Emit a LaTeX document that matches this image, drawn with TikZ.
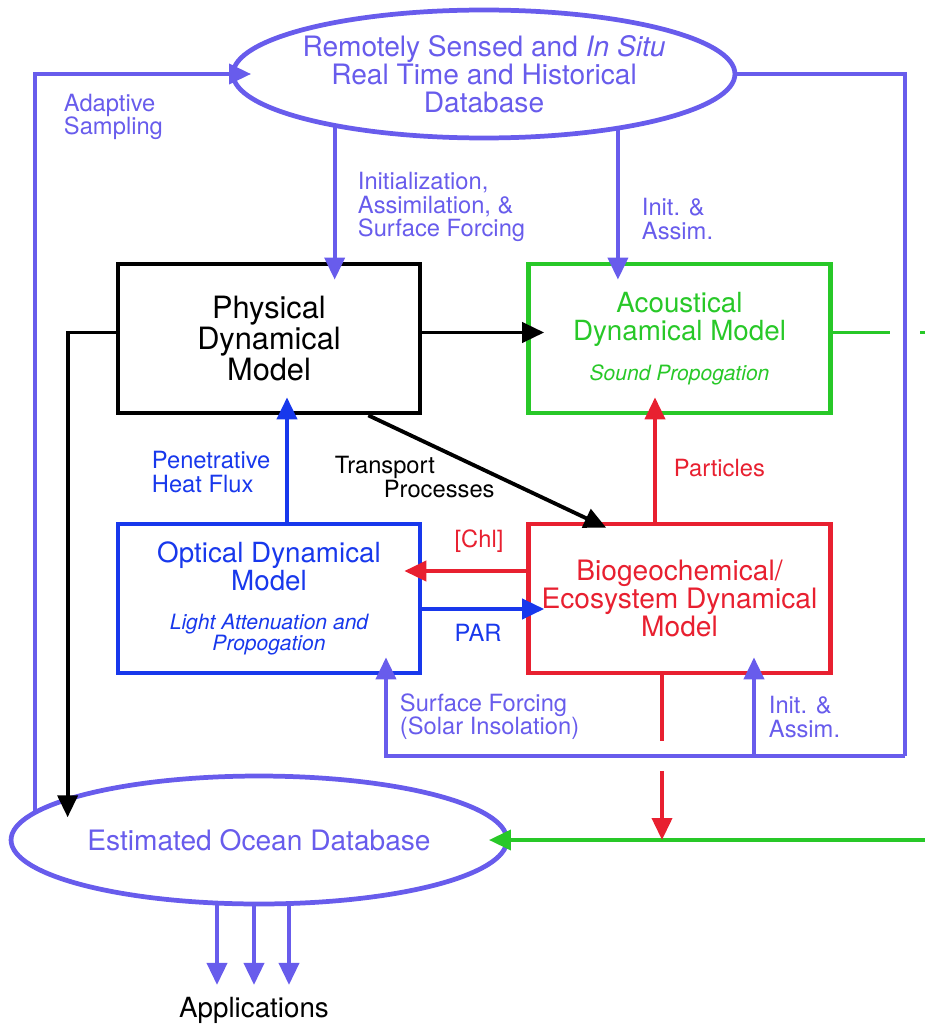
\documentclass[tikz,border=0pt]{standalone}
\usepackage{fontspec}
\setmainfont{TeX Gyre Heros}
\usetikzlibrary{arrows.meta, positioning, shapes.geometric, calc}
\definecolor{dbblue}{RGB}{104,92,236}
\definecolor{optblue}{RGB}{24,56,236}
\definecolor{biored}{RGB}{232,32,48}
\definecolor{acgreen}{RGB}{40,200,40}
\newcommand\modelsub[1]{{\itshape\fontsize{12}{12}\selectfont #1}}

\begin{document}
\begin{tikzpicture}[x=0.02cm, y=-0.02cm, >={Triangle[length=0.44cm, width=0.4cm]}, line width=2.2pt]
            \tikzset{modelbox/.style={draw, line width=2.7pt, minimum width=6.04cm, minimum height=2.98cm, align=center, inner sep=0pt},
                     dbell/.style={ellipse, draw=dbblue, line width=2.7pt, text=dbblue, align=center, inner xsep=-0.3cm, inner ysep=0pt, outer sep=0pt},
                     lbl/.style={anchor=west, align=left, inner sep=0pt, font=\fontsize{13.5}{13.4}\selectfont},
                     intip/.style={shorten >=-0.36cm},
                     hop/.style={preaction={draw=white, line width=0.6cm}}}
            \useasboundingbox (0,0) rectangle (925,1024);
            % databases
            \node[dbell, minimum width=10.04cm, minimum height=2.56cm, font=\fontsize{16}{15.9}\selectfont] (rsdb) at (484,74)
                {Remotely Sensed and \textit{In Situ}\\Real Time and Historical\\Database};
            \node[dbell, minimum width=9.92cm, minimum height=2.56cm, font=\fontsize{16}{16}\selectfont] (eodb) at (259,840)
                {Estimated Ocean Database};
            \node[font=\fontsize{15.8}{16}\selectfont, inner sep=0pt] (apps) at (254,1010) {Applications};
            % models
            \node[modelbox, font=\fontsize{17.5}{16.2}\selectfont] (phys) at (269,338.5) {Physical\\Dynamical\\Model};
            \node[modelbox, draw=acgreen, text=acgreen, font=\fontsize{15.8}{15.9}\selectfont] (acou) at (679.5,338.5)
                {Acoustical\\Dynamical Model\\[7pt]\modelsub{Sound Propogation}};
            \node[modelbox, draw=optblue, text=optblue, font=\fontsize{15.8}{15.9}\selectfont] (opt) at (269,598.5)
                {Optical Dynamical\\Model\\[6pt]\modelsub{Light Attenuation and}\\[-4pt]\modelsub{Propogation}};
            \node[modelbox, draw=biored, text=biored, font=\fontsize{16}{15.9}\selectfont] (bio) at (679.5,598.5)
                {Biogeochemical/\\Ecosystem Dynamical\\Model};
            % labels
            \node[lbl, text=dbblue] (adapt) at (62,117) {Adaptive\\Sampling};
            \node[lbl, text=dbblue] (initphys) at (356,207) {Initialization,\\Assimilation, \&\\Surface Forcing};
            \node[lbl, text=dbblue] (initacou) at (640,219) {Init. \&\\Assim.};
            \node[lbl, text=optblue] (heat) at (150,472) {Penetrative\\Heat Flux};
            \node[lbl] (transp) at (333,477) {Transport\\\hspace*{0.98cm}Processes};
            \node[lbl, text=biored] (partic) at (672,468) {Particles};
            \node[lbl, text=biored, anchor=center] (chl) at (479,541) {[Chl]};
            \node[lbl, text=optblue, anchor=center] (par) at (478,633) {PAR};
            \node[lbl, text=dbblue] (solar) at (398,716.5) {Surface Forcing\\(Solar Insolation)};
            \node[lbl, text=dbblue] (initbio) at (767,717) {Init. \&\\Assim.};
            % connectors
            \coordinate (feed) at (905,756);
            \coordinate (gturn) at (928,840);
            \draw[acgreen, ->, intip] ([yshift=0.12cm]acou.east) -| (gturn) -- (eodb.east);
            \draw[biored, ->] ([xshift=-0.35cm]bio.south) -- ([xshift=-0.35cm]bio.south |- eodb.east);
            \draw[dbblue] (rsdb.east) -| (feed);
            \draw[dbblue, ->, intip] (feed) -| ([xshift=2.34cm]opt.south);
            \draw[dbblue, hop] ($(feed)+(0,-456)$) -- ($(feed)+(0,-392)$);
            \draw[dbblue, hop] ($(feed)+(-275,0)$) -- ($(feed)+(-205,0)$);
            \draw[dbblue, ->, intip] ([xshift=1.49cm]bio.south |- feed) -- ([xshift=1.49cm]bio.south);
            \draw[dbblue, ->, intip] (eodb.173.3) |- (rsdb.west);
            \draw[dbblue, ->, intip] (rsdb.199.8) -- (rsdb.199.8 |- phys.north);
            \draw[dbblue, ->, intip] (rsdb.338.2) -- (rsdb.338.2 |- acou.north);
            \draw[->, intip] ([yshift=0.12cm]phys.east) -- ([yshift=0.12cm]acou.west);
            \draw[->, intip] ([yshift=0.12cm]phys.west) -| (eodb.168.5);
            \draw[->] ([xshift=-1.08cm]phys.south east) -- ([xshift=1.6cm, yshift=-0.12cm]bio.north west);
            \draw[optblue, ->, intip] ([xshift=0.36cm]opt.north) -- ([xshift=0.36cm]phys.south);
            \draw[biored, ->, intip] ([xshift=-0.49cm]bio.north) -- ([xshift=-0.49cm]acou.south);
            \draw[biored, ->, intip] ([yshift=0.55cm]bio.west) -- ([yshift=0.55cm]opt.east);
            \draw[optblue, ->, intip] ([yshift=-0.21cm]opt.east) -- ([yshift=-0.21cm]bio.west);
            \foreach \dx in {-0.84,-0.1,0.6}
                \draw[dbblue, ->, shorten >=0.2cm] ([xshift=\dx cm]eodb.south) -- ([xshift=\dx cm]eodb.south |- apps.north);
        \end{tikzpicture}
\end{document}
